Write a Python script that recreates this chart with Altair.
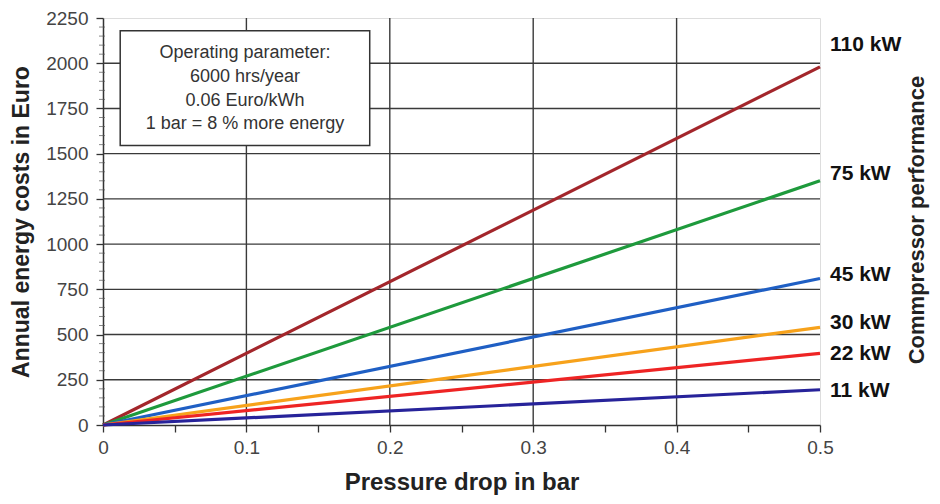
import altair as alt
import pandas as pd

# ---- data ----
power = ["110 kW", "75 kW", "45 kW", "30 kW", "22 kW", "11 kW"]
colors = ["#a3262b", "#1e9a3c", "#1f5fc4", "#f7a21b", "#ee2424", "#27239a"]
pressure = [0.0, 0.5]
cost_start = [0, 0, 0, 0, 0, 0]
cost_end = [1980, 1350, 810, 540, 396, 195]
label_cost = [2100, 1390, 830, 565, 390, 190]

x_grid = [0.1, 0.2, 0.3, 0.4]
y_grid = [250, 500, 750, 1000, 1250, 1500, 1750, 2000]
y_minor = [v for v in range(0, 2251, 50) if v % 250 != 0]
x_ticks = [0, 0.05, 0.1, 0.15, 0.2, 0.25, 0.3, 0.35, 0.4, 0.45, 0.5]
y_ticks = [0, 250, 500, 750, 1000, 1250, 1500, 1750, 2000, 2250]

box_lines = ["Operating parameter:", "6000 hrs/year", "0.06 Euro/kWh", "1 bar = 8 % more energy"]
box_line_y = [2058, 1922, 1790, 1662]
box_x = [0.012, 0.186]
box_y = [1545, 2180]

FONT = "Liberation Sans"

rows = []
for p, c0, c1 in zip(power, cost_start, cost_end):
    rows.append({"power": p, "pressure": pressure[0], "cost": c0})
    rows.append({"power": p, "pressure": pressure[1], "cost": c1})
lines_df = pd.DataFrame(rows)
labels_df = pd.DataFrame({"power": power, "pressure": [0.5] * 6, "cost": label_cost})

xs = alt.Scale(domain=[0, 0.5], nice=False, zero=True)
ys = alt.Scale(domain=[0, 2250], nice=False)

x_enc = alt.X("pressure:Q", scale=xs, axis=alt.Axis(
    values=x_ticks,
    labelExpr="(round(datum.value*100) % 10 == 0) ? format(datum.value, '~g') : ''",
    labelFlush=False,
    grid=False, tickSize=7, tickColor="#333", domainColor="#333", domainWidth=1.5,
    tickWidth=1.3, labelFont=FONT, labelFontSize=19, labelColor="#444", labelPadding=6,
    title="Pressure drop in bar", titleFont=FONT, titleFontSize=24, titleFontWeight="bold",
    titleColor="#222", titlePadding=13))
y_enc = alt.Y("cost:Q", scale=ys, axis=alt.Axis(
    values=y_ticks, format="d", labelFlush=False, grid=False, tickSize=7, tickColor="#333",
    domainColor="#333", domainWidth=1.5, tickWidth=1.3, labelFont=FONT, labelFontSize=19,
    labelColor="#444", labelPadding=8, title="Annual energy costs in Euro", titleFont=FONT,
    titleFontSize=23, titleFontWeight="bold", titleColor="#222", titlePadding=12))

color_scale = alt.Scale(domain=power, range=colors)

vgrid = alt.Chart(pd.DataFrame({"pressure": x_grid})).mark_rule(color="#3a3a3a", strokeWidth=1.4).encode(
    x=alt.X("pressure:Q", scale=xs))
hgrid = alt.Chart(pd.DataFrame({"cost": y_grid})).mark_rule(color="#3a3a3a", strokeWidth=1.4).encode(
    y=alt.Y("cost:Q", scale=ys))
minor = alt.Chart(pd.DataFrame({"cost": y_minor})).mark_tick(color="#555", size=6, thickness=1).encode(
    y=alt.Y("cost:Q", scale=ys), x=alt.value(-1))

lines = alt.Chart(lines_df).mark_line(strokeWidth=3.2).encode(
    x=x_enc, y=y_enc,
    color=alt.Color("power:N", scale=color_scale, legend=None),
    order=alt.Order("pressure:Q"))

labels = alt.Chart(labels_df).mark_text(
    align="left", dx=10, font=FONT, fontSize=21, fontWeight="bold", color="#111").encode(
    x=alt.X("pressure:Q", scale=xs), y=alt.Y("cost:Q", scale=ys), text="power:N")

box = alt.Chart(pd.DataFrame({"x": [box_x[0]], "x2": [box_x[1]], "y": [box_y[0]], "y2": [box_y[1]]})).mark_rect(
    fill="white", stroke="#333", strokeWidth=1.5).encode(
    x=alt.X("x:Q", scale=xs), x2="x2:Q", y=alt.Y("y:Q", scale=ys), y2="y2:Q")

box_text = alt.Chart(pd.DataFrame({"t": box_lines, "y": box_line_y, "x": [sum(box_x) / 2] * 4})).mark_text(
    font=FONT, fontSize=18, color="#333").encode(
    x=alt.X("x:Q", scale=xs), y=alt.Y("y:Q", scale=ys), text="t:N")

right_title = alt.Chart(pd.DataFrame({"t": ["Commpressor performance"]})).mark_text(
    font=FONT, fontSize=22, fontWeight="bold", color="#222", angle=270, baseline="middle").encode(
    x=alt.value(814), y=alt.value(202), text="t:N")

chart = alt.layer(vgrid, hgrid, minor, lines, labels, box, box_text, right_title).properties(
    width=717, height=407,
    autosize=alt.AutoSizeParams(type="none"),
    padding={"left": 95, "top": 10, "right": 112, "bottom": 70},
).configure_view(stroke="#bbbbbb", strokeWidth=1.2).configure(background="white")

chart.save("out.html", embed_options={"renderer": "svg", "actions": False})
